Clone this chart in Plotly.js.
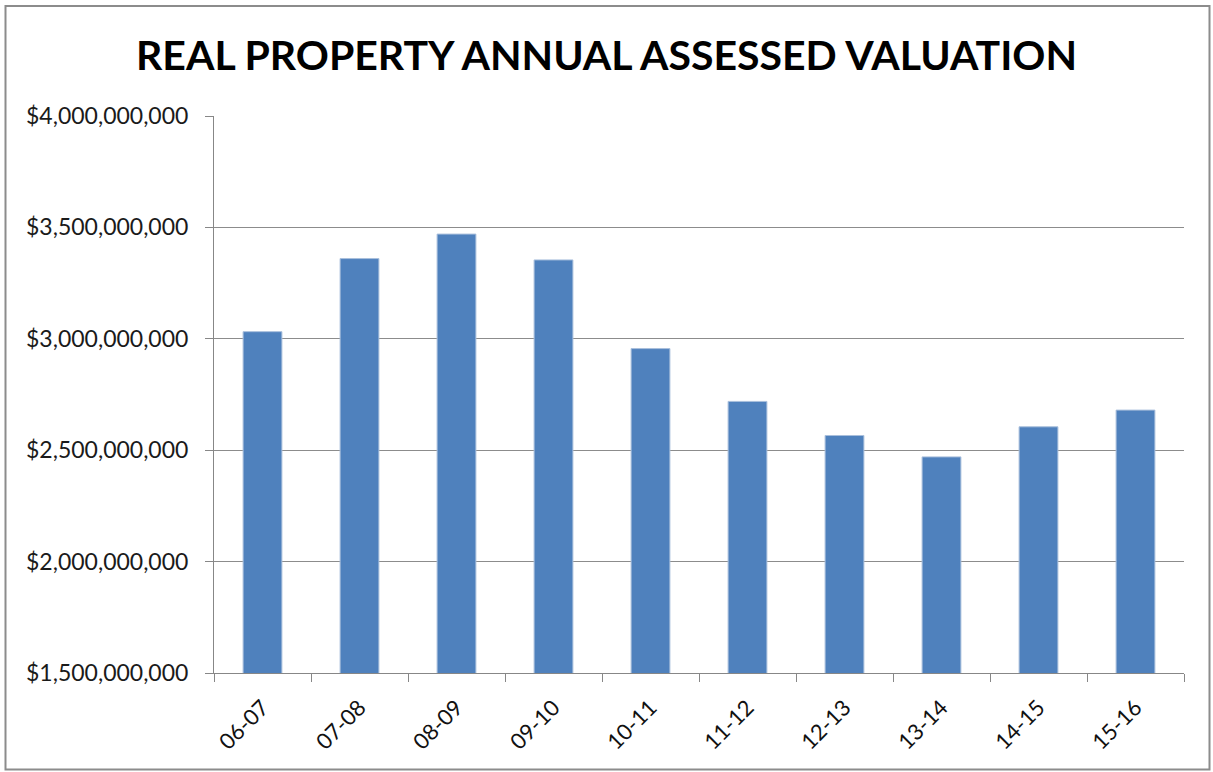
<!DOCTYPE html>
<html>
<head>
<meta charset="utf-8">
<script src="https://cdn.plot.ly/plotly-3.0.1.min.js"></script>
<style>html,body{margin:0;padding:0;background:#fff;}#chart{width:1213px;height:772px;}</style>
</head>
<body>
<div id="chart"></div>
<script>
const categories = ["06-07","07-08","08-09","09-10","10-11","11-12","12-13","13-14","14-15","15-16"];
const valuation = [3032000000, 3360000000, 3470000000, 3354000000, 2956000000, 2719000000, 2566000000, 2470000000, 2605000000, 2680000000];
const yTickVals = [1500000000, 2000000000, 2500000000, 3000000000, 3500000000, 4000000000];
const yTickText = ["$1,500,000,000","$2,000,000,000","$2,500,000,000","$3,000,000,000","$3,500,000,000","$4,000,000,000"];
const chartTitle = "REAL PROPERTY ANNUAL ASSESSED VALUATION";

const L = 214, R = 1184, T = 116, B = 673;
const pw = R - L, ph = B - T;
function px(x){ return (x - L) / pw; }
function py(y){ return (B - y) / ph; }

const trace = {
  type: "bar",
  x: categories,
  y: valuation,
  marker: {color: "#4F81BD", line: {color: "#a9bfdc", width: 1}},
  hoverinfo: "x+y"
};

const layout = {
  width: 1213, height: 772,
  margin: {l: L, r: 1213 - R, t: T, b: 772 - B},
  paper_bgcolor: "#ffffff", plot_bgcolor: "#ffffff",
  showlegend: false,
  bargap: 0.6,
  font: {family: "Lato, 'Open Sans', sans-serif", color: "#000"},
  title: {
    text: "<b>" + chartTitle + "</b>",
    font: {family: "Lato, 'Open Sans', sans-serif", size: 41, color: "#000"},
    x: 0.5, xref: "container", xanchor: "center",
    y: 1 - 56/772, yref: "container", yanchor: "middle"
  },
  xaxis: {
    type: "category",
    tickangle: -45,
    tickfont: {size: 22, color: "#111"},
    showgrid: false,
    showline: true, linecolor: "#878787", linewidth: 1,
    ticks: "outside", ticklen: 8, tickcolor: "#878787",
    tickson: "boundaries",
    ticklabelstandoff: 12,
    zeroline: false,
    fixedrange: true
  },
  yaxis: {
    range: [1500000000, 4000000000],
    tickvals: yTickVals,
    ticktext: yTickText,
    tickfont: {size: 23, color: "#1a1a1a"},
    showgrid: true, gridcolor: "#8c8c8c", gridwidth: 1,
    showline: true, linecolor: "#878787", linewidth: 1,
    ticks: "outside", ticklen: 8, tickcolor: "#878787",
    ticklabelstandoff: 12,
    zeroline: false,
    fixedrange: true
  },
  shapes: [{
    type: "rect", xref: "paper", yref: "paper",
    x0: px(5.5), x1: px(1209.5), y0: py(769.5), y1: py(6),
    line: {color: "#8c8c8c", width: 2}, fillcolor: "rgba(0,0,0,0)", layer: "below"
  }]
};

Plotly.newPlot("chart", [trace], layout, {displayModeBar: false, staticPlot: true});
</script>
</body>
</html>
